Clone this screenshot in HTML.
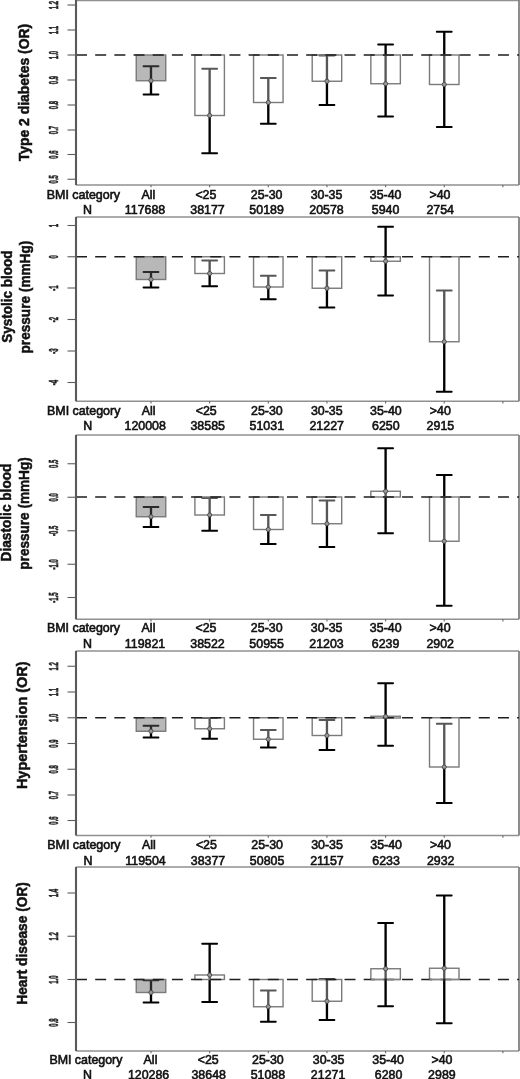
<!DOCTYPE html><html><head><meta charset="utf-8"><style>html,body{margin:0;padding:0;background:#fff;width:520px;height:1079px;overflow:hidden}svg{display:block;will-change:transform}text{font-family:"Liberation Sans",sans-serif}.t{font-weight:bold;font-size:14.2px;fill:#111;stroke:#111;stroke-width:0.5px}.k{font-size:13.6px;font-weight:bold;fill:#222;stroke:#222;stroke-width:0.5px;vector-effect:non-scaling-stroke}.l{font-size:12.4px;fill:#111;stroke:#111;stroke-width:0.6px}</style></head><body>
<svg width="520" height="1079" viewBox="0 0 520 1079">
<line x1="76" y1="0.6" x2="519" y2="0.6" stroke="#909090" stroke-width="1.3"/>
<line x1="76" y1="185" x2="519" y2="185" stroke="#909090" stroke-width="1.3"/>
<line x1="519" y1="0" x2="519" y2="185" stroke="#808080" stroke-width="1.8"/>
<line x1="67.5" y1="5" x2="76" y2="5" stroke="#5c5c5c" stroke-width="1.1"/>
<text class="k" transform="translate(58,5) rotate(-90) scale(0.44,1)" text-anchor="middle">1.2</text>
<line x1="67.5" y1="30" x2="76" y2="30" stroke="#5c5c5c" stroke-width="1.1"/>
<text class="k" transform="translate(58,30) rotate(-90) scale(0.44,1)" text-anchor="middle">1.1</text>
<line x1="67.5" y1="55" x2="76" y2="55" stroke="#5c5c5c" stroke-width="1.1"/>
<text class="k" transform="translate(58,55) rotate(-90) scale(0.44,1)" text-anchor="middle">1.0</text>
<line x1="67.5" y1="80" x2="76" y2="80" stroke="#5c5c5c" stroke-width="1.1"/>
<text class="k" transform="translate(58,80) rotate(-90) scale(0.44,1)" text-anchor="middle">0.9</text>
<line x1="67.5" y1="105" x2="76" y2="105" stroke="#5c5c5c" stroke-width="1.1"/>
<text class="k" transform="translate(58,105) rotate(-90) scale(0.44,1)" text-anchor="middle">0.8</text>
<line x1="67.5" y1="130" x2="76" y2="130" stroke="#5c5c5c" stroke-width="1.1"/>
<text class="k" transform="translate(58,130) rotate(-90) scale(0.44,1)" text-anchor="middle">0.7</text>
<line x1="67.5" y1="154.5" x2="76" y2="154.5" stroke="#5c5c5c" stroke-width="1.1"/>
<text class="k" transform="translate(58,154.5) rotate(-90) scale(0.44,1)" text-anchor="middle">0.6</text>
<line x1="67.5" y1="179.25" x2="76" y2="179.25" stroke="#5c5c5c" stroke-width="1.1"/>
<text class="k" transform="translate(58,179.25) rotate(-90) scale(0.44,1)" text-anchor="middle">0.5</text>
<line x1="151" y1="185" x2="151" y2="187.2" stroke="#666" stroke-width="1.1"/>
<line x1="209.65" y1="185" x2="209.65" y2="187.2" stroke="#666" stroke-width="1.1"/>
<line x1="268.3" y1="185" x2="268.3" y2="187.2" stroke="#666" stroke-width="1.1"/>
<line x1="326.95" y1="185" x2="326.95" y2="187.2" stroke="#666" stroke-width="1.1"/>
<line x1="385.6" y1="185" x2="385.6" y2="187.2" stroke="#666" stroke-width="1.1"/>
<line x1="444.25" y1="185" x2="444.25" y2="187.2" stroke="#666" stroke-width="1.1"/>
<line x1="502.9" y1="185" x2="502.9" y2="187.2" stroke="#666" stroke-width="1.1"/>
<path d="M151 66.25V94.5" stroke="#000" stroke-width="2.35" fill="none"/>
<path d="M143.5 66.25H158.5M143.5 94.5H158.5" stroke="#000" stroke-width="1.8" stroke-linecap="round" fill="none"/>
<path d="M209.65 68.75V153.25" stroke="#000" stroke-width="2.35" fill="none"/>
<path d="M202.15 68.75H217.15M202.15 153.25H217.15" stroke="#000" stroke-width="1.8" stroke-linecap="round" fill="none"/>
<path d="M268.3 78V123.75" stroke="#000" stroke-width="2.35" fill="none"/>
<path d="M260.8 78H275.8M260.8 123.75H275.8" stroke="#000" stroke-width="1.8" stroke-linecap="round" fill="none"/>
<path d="M326.95 55.5V105" stroke="#000" stroke-width="2.35" fill="none"/>
<path d="M319.45 55.5H334.45M319.45 105H334.45" stroke="#000" stroke-width="1.8" stroke-linecap="round" fill="none"/>
<path d="M385.6 44.5V116.5" stroke="#000" stroke-width="2.35" fill="none"/>
<path d="M378.1 44.5H393.1M378.1 116.5H393.1" stroke="#000" stroke-width="1.8" stroke-linecap="round" fill="none"/>
<path d="M444.25 31.75V127" stroke="#000" stroke-width="2.35" fill="none"/>
<path d="M436.75 31.75H451.75M436.75 127H451.75" stroke="#000" stroke-width="1.8" stroke-linecap="round" fill="none"/>
<rect x="136.25" y="55" width="29.5" height="25.75" fill="rgba(95,95,95,0.443)" stroke="#7a7a7a" stroke-width="1.4"/>
<rect x="194.9" y="55" width="29.5" height="60.5" fill="rgba(255,255,255,0.34)" stroke="#7a7a7a" stroke-width="1.4"/>
<rect x="253.55" y="55" width="29.5" height="47.5" fill="rgba(255,255,255,0.34)" stroke="#7a7a7a" stroke-width="1.4"/>
<rect x="312.2" y="55" width="29.5" height="26.25" fill="rgba(255,255,255,0.34)" stroke="#7a7a7a" stroke-width="1.4"/>
<rect x="370.85" y="55" width="29.5" height="28.75" fill="rgba(255,255,255,0.34)" stroke="#7a7a7a" stroke-width="1.4"/>
<rect x="429.5" y="55" width="29.5" height="29.5" fill="rgba(255,255,255,0.34)" stroke="#7a7a7a" stroke-width="1.4"/>
<line x1="76" y1="55" x2="519" y2="55" stroke="#1e1e1e" stroke-width="1.6" stroke-dasharray="11 8.18"/>
<circle cx="151" cy="80.75" r="2.1" fill="#999" stroke="#4a4a4a" stroke-width="0.9"/>
<circle cx="209.65" cy="115.5" r="2.1" fill="#999" stroke="#4a4a4a" stroke-width="0.9"/>
<circle cx="268.3" cy="102.5" r="2.1" fill="#999" stroke="#4a4a4a" stroke-width="0.9"/>
<circle cx="326.95" cy="81.25" r="2.1" fill="#999" stroke="#4a4a4a" stroke-width="0.9"/>
<circle cx="385.6" cy="83.75" r="2.1" fill="#999" stroke="#4a4a4a" stroke-width="0.9"/>
<circle cx="444.25" cy="84.5" r="2.1" fill="#999" stroke="#4a4a4a" stroke-width="0.9"/>
<line x1="76" y1="0" x2="76" y2="185" stroke="#5a5a5a" stroke-width="2.1"/>
<text class="t" transform="translate(28.5,92.55) rotate(-90)" text-anchor="middle" textLength="137.5" lengthAdjust="spacingAndGlyphs">Type 2 diabetes (OR)</text>
<text class="l" x="83.4" y="198.7" text-anchor="middle" textLength="73.4" lengthAdjust="spacingAndGlyphs">BMI category</text>
<text class="l" x="87.6" y="213.7" text-anchor="middle">N</text>
<text class="l" x="148.4" y="198.7" text-anchor="middle">All</text>
<text class="l" x="145" y="213.7" text-anchor="middle">117688</text>
<text class="l" x="205.9" y="198.7" text-anchor="middle">&lt;25</text>
<text class="l" x="207.5" y="213.7" text-anchor="middle">38177</text>
<text class="l" x="266.6" y="198.7" text-anchor="middle">25-30</text>
<text class="l" x="266.6" y="213.7" text-anchor="middle">50189</text>
<text class="l" x="326.5" y="198.7" text-anchor="middle">30-35</text>
<text class="l" x="326.5" y="213.7" text-anchor="middle">20578</text>
<text class="l" x="385.6" y="198.7" text-anchor="middle">35-40</text>
<text class="l" x="385.6" y="213.7" text-anchor="middle">5940</text>
<text class="l" x="440" y="198.7" text-anchor="middle">&gt;40</text>
<text class="l" x="440.2" y="213.7" text-anchor="middle">2754</text>
<line x1="76" y1="217" x2="519" y2="217" stroke="#909090" stroke-width="1.3"/>
<line x1="76" y1="401.25" x2="519" y2="401.25" stroke="#909090" stroke-width="1.3"/>
<line x1="519" y1="217" x2="519" y2="401.25" stroke="#808080" stroke-width="1.8"/>
<line x1="67.5" y1="225.5" x2="76" y2="225.5" stroke="#5c5c5c" stroke-width="1.1"/>
<text class="k" transform="translate(58,225.5) rotate(-90) scale(0.44,1)" text-anchor="middle">1</text>
<line x1="67.5" y1="256.75" x2="76" y2="256.75" stroke="#5c5c5c" stroke-width="1.1"/>
<text class="k" transform="translate(58,256.75) rotate(-90) scale(0.44,1)" text-anchor="middle">0</text>
<line x1="67.5" y1="288" x2="76" y2="288" stroke="#5c5c5c" stroke-width="1.1"/>
<text class="k" transform="translate(58,288) rotate(-90) scale(0.44,1)" text-anchor="middle">-1</text>
<line x1="67.5" y1="319.5" x2="76" y2="319.5" stroke="#5c5c5c" stroke-width="1.1"/>
<text class="k" transform="translate(58,319.5) rotate(-90) scale(0.44,1)" text-anchor="middle">-2</text>
<line x1="67.5" y1="351" x2="76" y2="351" stroke="#5c5c5c" stroke-width="1.1"/>
<text class="k" transform="translate(58,351) rotate(-90) scale(0.44,1)" text-anchor="middle">-3</text>
<line x1="67.5" y1="382.5" x2="76" y2="382.5" stroke="#5c5c5c" stroke-width="1.1"/>
<text class="k" transform="translate(58,382.5) rotate(-90) scale(0.44,1)" text-anchor="middle">-4</text>
<line x1="151" y1="401.25" x2="151" y2="403.45" stroke="#666" stroke-width="1.1"/>
<line x1="209.65" y1="401.25" x2="209.65" y2="403.45" stroke="#666" stroke-width="1.1"/>
<line x1="268.3" y1="401.25" x2="268.3" y2="403.45" stroke="#666" stroke-width="1.1"/>
<line x1="326.95" y1="401.25" x2="326.95" y2="403.45" stroke="#666" stroke-width="1.1"/>
<line x1="385.6" y1="401.25" x2="385.6" y2="403.45" stroke="#666" stroke-width="1.1"/>
<line x1="444.25" y1="401.25" x2="444.25" y2="403.45" stroke="#666" stroke-width="1.1"/>
<line x1="502.9" y1="401.25" x2="502.9" y2="403.45" stroke="#666" stroke-width="1.1"/>
<path d="M151 272V287.5" stroke="#000" stroke-width="2.35" fill="none"/>
<path d="M143.5 272H158.5M143.5 287.5H158.5" stroke="#000" stroke-width="1.8" stroke-linecap="round" fill="none"/>
<path d="M209.65 260.5V286.25" stroke="#000" stroke-width="2.35" fill="none"/>
<path d="M202.15 260.5H217.15M202.15 286.25H217.15" stroke="#000" stroke-width="1.8" stroke-linecap="round" fill="none"/>
<path d="M268.3 275.75V299.25" stroke="#000" stroke-width="2.35" fill="none"/>
<path d="M260.8 275.75H275.8M260.8 299.25H275.8" stroke="#000" stroke-width="1.8" stroke-linecap="round" fill="none"/>
<path d="M326.95 270.5V307.5" stroke="#000" stroke-width="2.35" fill="none"/>
<path d="M319.45 270.5H334.45M319.45 307.5H334.45" stroke="#000" stroke-width="1.8" stroke-linecap="round" fill="none"/>
<path d="M385.6 226.75V295.5" stroke="#000" stroke-width="2.35" fill="none"/>
<path d="M378.1 226.75H393.1M378.1 295.5H393.1" stroke="#000" stroke-width="1.8" stroke-linecap="round" fill="none"/>
<path d="M444.25 290.5V391.75" stroke="#000" stroke-width="2.35" fill="none"/>
<path d="M436.75 290.5H451.75M436.75 391.75H451.75" stroke="#000" stroke-width="1.8" stroke-linecap="round" fill="none"/>
<rect x="136.25" y="256.75" width="29.5" height="22.75" fill="rgba(95,95,95,0.443)" stroke="#7a7a7a" stroke-width="1.4"/>
<rect x="194.9" y="256.75" width="29.5" height="16.75" fill="rgba(255,255,255,0.34)" stroke="#7a7a7a" stroke-width="1.4"/>
<rect x="253.55" y="256.75" width="29.5" height="30.25" fill="rgba(255,255,255,0.34)" stroke="#7a7a7a" stroke-width="1.4"/>
<rect x="312.2" y="256.75" width="29.5" height="31.5" fill="rgba(255,255,255,0.34)" stroke="#7a7a7a" stroke-width="1.4"/>
<rect x="370.85" y="256.75" width="29.5" height="4.5" fill="rgba(255,255,255,0.34)" stroke="#7a7a7a" stroke-width="1.4"/>
<rect x="429.5" y="256.75" width="29.5" height="85" fill="rgba(255,255,255,0.34)" stroke="#7a7a7a" stroke-width="1.4"/>
<line x1="76" y1="256.75" x2="519" y2="256.75" stroke="#1e1e1e" stroke-width="1.6" stroke-dasharray="11 8.18"/>
<circle cx="151" cy="279.5" r="2.1" fill="#999" stroke="#4a4a4a" stroke-width="0.9"/>
<circle cx="209.65" cy="273.5" r="2.1" fill="#999" stroke="#4a4a4a" stroke-width="0.9"/>
<circle cx="268.3" cy="287" r="2.1" fill="#999" stroke="#4a4a4a" stroke-width="0.9"/>
<circle cx="326.95" cy="288.25" r="2.1" fill="#999" stroke="#4a4a4a" stroke-width="0.9"/>
<circle cx="385.6" cy="261.25" r="2.1" fill="#999" stroke="#4a4a4a" stroke-width="0.9"/>
<circle cx="444.25" cy="341.75" r="2.1" fill="#999" stroke="#4a4a4a" stroke-width="0.9"/>
<line x1="76" y1="217" x2="76" y2="401.25" stroke="#5a5a5a" stroke-width="2.1"/>
<text class="t" transform="translate(12.2,296.62) rotate(-90)" text-anchor="middle" textLength="92.35" lengthAdjust="spacingAndGlyphs">Systolic blood</text>
<text class="t" transform="translate(30.1,297.1) rotate(-90)" text-anchor="middle" textLength="112.8" lengthAdjust="spacingAndGlyphs">pressure (mmHg)</text>
<text class="l" x="83.7" y="414.5" text-anchor="middle" textLength="73.4" lengthAdjust="spacingAndGlyphs">BMI category</text>
<text class="l" x="87.8" y="430.1" text-anchor="middle">N</text>
<text class="l" x="148.7" y="414.5" text-anchor="middle">All</text>
<text class="l" x="145.2" y="430.1" text-anchor="middle">120008</text>
<text class="l" x="206.2" y="414.5" text-anchor="middle">&lt;25</text>
<text class="l" x="207.7" y="430.1" text-anchor="middle">38585</text>
<text class="l" x="266.9" y="414.5" text-anchor="middle">25-30</text>
<text class="l" x="266.8" y="430.1" text-anchor="middle">51031</text>
<text class="l" x="326.8" y="414.5" text-anchor="middle">30-35</text>
<text class="l" x="326.7" y="430.1" text-anchor="middle">21227</text>
<text class="l" x="385.9" y="414.5" text-anchor="middle">35-40</text>
<text class="l" x="385.8" y="430.1" text-anchor="middle">6250</text>
<text class="l" x="440.3" y="414.5" text-anchor="middle">&gt;40</text>
<text class="l" x="440.4" y="430.1" text-anchor="middle">2915</text>
<line x1="76" y1="435" x2="519" y2="435" stroke="#909090" stroke-width="1.3"/>
<line x1="76" y1="619.25" x2="519" y2="619.25" stroke="#909090" stroke-width="1.3"/>
<line x1="519" y1="435" x2="519" y2="619.25" stroke="#808080" stroke-width="1.8"/>
<line x1="67.5" y1="463.75" x2="76" y2="463.75" stroke="#5c5c5c" stroke-width="1.1"/>
<text class="k" transform="translate(58,463.75) rotate(-90) scale(0.44,1)" text-anchor="middle">0.5</text>
<line x1="67.5" y1="497.25" x2="76" y2="497.25" stroke="#5c5c5c" stroke-width="1.1"/>
<text class="k" transform="translate(58,497.25) rotate(-90) scale(0.44,1)" text-anchor="middle">0.0</text>
<line x1="67.5" y1="530.75" x2="76" y2="530.75" stroke="#5c5c5c" stroke-width="1.1"/>
<text class="k" transform="translate(58,530.75) rotate(-90) scale(0.44,1)" text-anchor="middle">-0.5</text>
<line x1="67.5" y1="564.25" x2="76" y2="564.25" stroke="#5c5c5c" stroke-width="1.1"/>
<text class="k" transform="translate(58,564.25) rotate(-90) scale(0.44,1)" text-anchor="middle">-1.0</text>
<line x1="67.5" y1="597.5" x2="76" y2="597.5" stroke="#5c5c5c" stroke-width="1.1"/>
<text class="k" transform="translate(58,597.5) rotate(-90) scale(0.44,1)" text-anchor="middle">-1.5</text>
<line x1="151" y1="619.25" x2="151" y2="621.45" stroke="#666" stroke-width="1.1"/>
<line x1="209.65" y1="619.25" x2="209.65" y2="621.45" stroke="#666" stroke-width="1.1"/>
<line x1="268.3" y1="619.25" x2="268.3" y2="621.45" stroke="#666" stroke-width="1.1"/>
<line x1="326.95" y1="619.25" x2="326.95" y2="621.45" stroke="#666" stroke-width="1.1"/>
<line x1="385.6" y1="619.25" x2="385.6" y2="621.45" stroke="#666" stroke-width="1.1"/>
<line x1="444.25" y1="619.25" x2="444.25" y2="621.45" stroke="#666" stroke-width="1.1"/>
<line x1="502.9" y1="619.25" x2="502.9" y2="621.45" stroke="#666" stroke-width="1.1"/>
<path d="M151 507V527" stroke="#000" stroke-width="2.35" fill="none"/>
<path d="M143.5 507H158.5M143.5 527H158.5" stroke="#000" stroke-width="1.8" stroke-linecap="round" fill="none"/>
<path d="M209.65 498V530.75" stroke="#000" stroke-width="2.35" fill="none"/>
<path d="M202.15 498H217.15M202.15 530.75H217.15" stroke="#000" stroke-width="1.8" stroke-linecap="round" fill="none"/>
<path d="M268.3 515V544" stroke="#000" stroke-width="2.35" fill="none"/>
<path d="M260.8 515H275.8M260.8 544H275.8" stroke="#000" stroke-width="1.8" stroke-linecap="round" fill="none"/>
<path d="M326.95 500.5V547" stroke="#000" stroke-width="2.35" fill="none"/>
<path d="M319.45 500.5H334.45M319.45 547H334.45" stroke="#000" stroke-width="1.8" stroke-linecap="round" fill="none"/>
<path d="M385.6 448.25V533.25" stroke="#000" stroke-width="2.35" fill="none"/>
<path d="M378.1 448.25H393.1M378.1 533.25H393.1" stroke="#000" stroke-width="1.8" stroke-linecap="round" fill="none"/>
<path d="M444.25 475V605.75" stroke="#000" stroke-width="2.35" fill="none"/>
<path d="M436.75 475H451.75M436.75 605.75H451.75" stroke="#000" stroke-width="1.8" stroke-linecap="round" fill="none"/>
<rect x="136.25" y="497" width="29.5" height="19.75" fill="rgba(95,95,95,0.443)" stroke="#7a7a7a" stroke-width="1.4"/>
<rect x="194.9" y="497" width="29.5" height="18" fill="rgba(255,255,255,0.34)" stroke="#7a7a7a" stroke-width="1.4"/>
<rect x="253.55" y="497" width="29.5" height="32.5" fill="rgba(255,255,255,0.34)" stroke="#7a7a7a" stroke-width="1.4"/>
<rect x="312.2" y="497" width="29.5" height="26.75" fill="rgba(255,255,255,0.34)" stroke="#7a7a7a" stroke-width="1.4"/>
<rect x="370.85" y="491.25" width="29.5" height="5.75" fill="rgba(255,255,255,0.34)" stroke="#7a7a7a" stroke-width="1.4"/>
<rect x="429.5" y="497" width="29.5" height="44.25" fill="rgba(255,255,255,0.34)" stroke="#7a7a7a" stroke-width="1.4"/>
<line x1="76" y1="497" x2="519" y2="497" stroke="#1e1e1e" stroke-width="1.6" stroke-dasharray="11 8.18"/>
<circle cx="151" cy="516.75" r="2.1" fill="#999" stroke="#4a4a4a" stroke-width="0.9"/>
<circle cx="209.65" cy="515" r="2.1" fill="#999" stroke="#4a4a4a" stroke-width="0.9"/>
<circle cx="268.3" cy="529.5" r="2.1" fill="#999" stroke="#4a4a4a" stroke-width="0.9"/>
<circle cx="326.95" cy="523.75" r="2.1" fill="#999" stroke="#4a4a4a" stroke-width="0.9"/>
<circle cx="385.6" cy="491.25" r="2.1" fill="#999" stroke="#4a4a4a" stroke-width="0.9"/>
<circle cx="444.25" cy="541.25" r="2.1" fill="#999" stroke="#4a4a4a" stroke-width="0.9"/>
<line x1="76" y1="435" x2="76" y2="619.25" stroke="#5a5a5a" stroke-width="2.1"/>
<text class="t" transform="translate(11.4,512.5) rotate(-90)" text-anchor="middle" textLength="97.8" lengthAdjust="spacingAndGlyphs">Diastolic blood</text>
<text class="t" transform="translate(29.3,513.5) rotate(-90)" text-anchor="middle" textLength="112.4" lengthAdjust="spacingAndGlyphs">pressure (mmHg)</text>
<text class="l" x="83.5" y="631.9" text-anchor="middle" textLength="73.2" lengthAdjust="spacingAndGlyphs">BMI category</text>
<text class="l" x="87.6" y="647.7" text-anchor="middle">N</text>
<text class="l" x="148.5" y="631.9" text-anchor="middle">All</text>
<text class="l" x="145" y="647.7" text-anchor="middle">119821</text>
<text class="l" x="206" y="631.9" text-anchor="middle">&lt;25</text>
<text class="l" x="207.5" y="647.7" text-anchor="middle">38522</text>
<text class="l" x="266.7" y="631.9" text-anchor="middle">25-30</text>
<text class="l" x="266.6" y="647.7" text-anchor="middle">50955</text>
<text class="l" x="326.6" y="631.9" text-anchor="middle">30-35</text>
<text class="l" x="326.5" y="647.7" text-anchor="middle">21203</text>
<text class="l" x="385.7" y="631.9" text-anchor="middle">35-40</text>
<text class="l" x="385.6" y="647.7" text-anchor="middle">6239</text>
<text class="l" x="440.1" y="631.9" text-anchor="middle">&gt;40</text>
<text class="l" x="440.2" y="647.7" text-anchor="middle">2902</text>
<line x1="76" y1="651" x2="519" y2="651" stroke="#909090" stroke-width="1.3"/>
<line x1="76" y1="835.5" x2="519" y2="835.5" stroke="#909090" stroke-width="1.3"/>
<line x1="519" y1="651" x2="519" y2="835.5" stroke="#808080" stroke-width="1.8"/>
<line x1="67.5" y1="666.25" x2="76" y2="666.25" stroke="#5c5c5c" stroke-width="1.1"/>
<text class="k" transform="translate(58,666.25) rotate(-90) scale(0.44,1)" text-anchor="middle">1.2</text>
<line x1="67.5" y1="692" x2="76" y2="692" stroke="#5c5c5c" stroke-width="1.1"/>
<text class="k" transform="translate(58,692) rotate(-90) scale(0.44,1)" text-anchor="middle">1.1</text>
<line x1="67.5" y1="717.75" x2="76" y2="717.75" stroke="#5c5c5c" stroke-width="1.1"/>
<text class="k" transform="translate(58,717.75) rotate(-90) scale(0.44,1)" text-anchor="middle">1.0</text>
<line x1="67.5" y1="743.5" x2="76" y2="743.5" stroke="#5c5c5c" stroke-width="1.1"/>
<text class="k" transform="translate(58,743.5) rotate(-90) scale(0.44,1)" text-anchor="middle">0.9</text>
<line x1="67.5" y1="769.25" x2="76" y2="769.25" stroke="#5c5c5c" stroke-width="1.1"/>
<text class="k" transform="translate(58,769.25) rotate(-90) scale(0.44,1)" text-anchor="middle">0.8</text>
<line x1="67.5" y1="795" x2="76" y2="795" stroke="#5c5c5c" stroke-width="1.1"/>
<text class="k" transform="translate(58,795) rotate(-90) scale(0.44,1)" text-anchor="middle">0.7</text>
<line x1="67.5" y1="820.5" x2="76" y2="820.5" stroke="#5c5c5c" stroke-width="1.1"/>
<text class="k" transform="translate(58,820.5) rotate(-90) scale(0.44,1)" text-anchor="middle">0.6</text>
<line x1="151" y1="835.5" x2="151" y2="837.7" stroke="#666" stroke-width="1.1"/>
<line x1="209.65" y1="835.5" x2="209.65" y2="837.7" stroke="#666" stroke-width="1.1"/>
<line x1="268.3" y1="835.5" x2="268.3" y2="837.7" stroke="#666" stroke-width="1.1"/>
<line x1="326.95" y1="835.5" x2="326.95" y2="837.7" stroke="#666" stroke-width="1.1"/>
<line x1="385.6" y1="835.5" x2="385.6" y2="837.7" stroke="#666" stroke-width="1.1"/>
<line x1="444.25" y1="835.5" x2="444.25" y2="837.7" stroke="#666" stroke-width="1.1"/>
<line x1="502.9" y1="835.5" x2="502.9" y2="837.7" stroke="#666" stroke-width="1.1"/>
<path d="M151 725.75V737.5" stroke="#000" stroke-width="2.35" fill="none"/>
<path d="M143.5 725.75H158.5M143.5 737.5H158.5" stroke="#000" stroke-width="1.8" stroke-linecap="round" fill="none"/>
<path d="M209.65 718V738.75" stroke="#000" stroke-width="2.35" fill="none"/>
<path d="M202.15 718H217.15M202.15 738.75H217.15" stroke="#000" stroke-width="1.8" stroke-linecap="round" fill="none"/>
<path d="M268.3 730V747.5" stroke="#000" stroke-width="2.35" fill="none"/>
<path d="M260.8 730H275.8M260.8 747.5H275.8" stroke="#000" stroke-width="1.8" stroke-linecap="round" fill="none"/>
<path d="M326.95 720V750" stroke="#000" stroke-width="2.35" fill="none"/>
<path d="M319.45 720H334.45M319.45 750H334.45" stroke="#000" stroke-width="1.8" stroke-linecap="round" fill="none"/>
<path d="M385.6 683.25V745.75" stroke="#000" stroke-width="2.35" fill="none"/>
<path d="M378.1 683.25H393.1M378.1 745.75H393.1" stroke="#000" stroke-width="1.8" stroke-linecap="round" fill="none"/>
<path d="M444.25 723.75V803" stroke="#000" stroke-width="2.35" fill="none"/>
<path d="M436.75 723.75H451.75M436.75 803H451.75" stroke="#000" stroke-width="1.8" stroke-linecap="round" fill="none"/>
<rect x="136.25" y="717.75" width="29.5" height="13.5" fill="rgba(95,95,95,0.443)" stroke="#7a7a7a" stroke-width="1.4"/>
<rect x="194.9" y="717.75" width="29.5" height="11" fill="rgba(255,255,255,0.34)" stroke="#7a7a7a" stroke-width="1.4"/>
<rect x="253.55" y="717.75" width="29.5" height="21.5" fill="rgba(255,255,255,0.34)" stroke="#7a7a7a" stroke-width="1.4"/>
<rect x="312.2" y="717.75" width="29.5" height="17.75" fill="rgba(255,255,255,0.34)" stroke="#7a7a7a" stroke-width="1.4"/>
<rect x="370.85" y="716.25" width="29.5" height="1.75" fill="rgba(255,255,255,0.34)" stroke="#7a7a7a" stroke-width="1.4"/>
<rect x="429.5" y="717.75" width="29.5" height="49.25" fill="rgba(255,255,255,0.34)" stroke="#7a7a7a" stroke-width="1.4"/>
<line x1="76" y1="717.75" x2="519" y2="717.75" stroke="#1e1e1e" stroke-width="1.6" stroke-dasharray="11 8.18"/>
<circle cx="151" cy="731.25" r="2.1" fill="#999" stroke="#4a4a4a" stroke-width="0.9"/>
<circle cx="209.65" cy="728.75" r="2.1" fill="#999" stroke="#4a4a4a" stroke-width="0.9"/>
<circle cx="268.3" cy="739.25" r="2.1" fill="#999" stroke="#4a4a4a" stroke-width="0.9"/>
<circle cx="326.95" cy="735.5" r="2.1" fill="#999" stroke="#4a4a4a" stroke-width="0.9"/>
<circle cx="385.6" cy="716.5" r="2.1" fill="#999" stroke="#4a4a4a" stroke-width="0.9"/>
<circle cx="444.25" cy="767" r="2.1" fill="#999" stroke="#4a4a4a" stroke-width="0.9"/>
<line x1="76" y1="651" x2="76" y2="835.5" stroke="#5a5a5a" stroke-width="2.1"/>
<text class="t" transform="translate(26.9,725.25) rotate(-90)" text-anchor="middle" textLength="127.7" lengthAdjust="spacingAndGlyphs">Hypertension (OR)</text>
<text class="l" x="83.9" y="849.2" text-anchor="middle" textLength="73.2" lengthAdjust="spacingAndGlyphs">BMI category</text>
<text class="l" x="88.1" y="864.6" text-anchor="middle">N</text>
<text class="l" x="148.9" y="849.2" text-anchor="middle">All</text>
<text class="l" x="145.5" y="864.6" text-anchor="middle">119504</text>
<text class="l" x="206.4" y="849.2" text-anchor="middle">&lt;25</text>
<text class="l" x="208" y="864.6" text-anchor="middle">38377</text>
<text class="l" x="267.1" y="849.2" text-anchor="middle">25-30</text>
<text class="l" x="267.1" y="864.6" text-anchor="middle">50805</text>
<text class="l" x="327" y="849.2" text-anchor="middle">30-35</text>
<text class="l" x="327" y="864.6" text-anchor="middle">21157</text>
<text class="l" x="386.1" y="849.2" text-anchor="middle">35-40</text>
<text class="l" x="386.1" y="864.6" text-anchor="middle">6233</text>
<text class="l" x="440.5" y="849.2" text-anchor="middle">&gt;40</text>
<text class="l" x="440.7" y="864.6" text-anchor="middle">2932</text>
<line x1="76" y1="867" x2="519" y2="867" stroke="#909090" stroke-width="1.3"/>
<line x1="76" y1="1051" x2="519" y2="1051" stroke="#909090" stroke-width="1.3"/>
<line x1="519" y1="867" x2="519" y2="1051" stroke="#808080" stroke-width="1.8"/>
<line x1="67.5" y1="893" x2="76" y2="893" stroke="#5c5c5c" stroke-width="1.1"/>
<text class="k" transform="translate(58,893) rotate(-90) scale(0.44,1)" text-anchor="middle">1.4</text>
<line x1="67.5" y1="936.25" x2="76" y2="936.25" stroke="#5c5c5c" stroke-width="1.1"/>
<text class="k" transform="translate(58,936.25) rotate(-90) scale(0.44,1)" text-anchor="middle">1.2</text>
<line x1="67.5" y1="979.5" x2="76" y2="979.5" stroke="#5c5c5c" stroke-width="1.1"/>
<text class="k" transform="translate(58,979.5) rotate(-90) scale(0.44,1)" text-anchor="middle">1.0</text>
<line x1="67.5" y1="1022.5" x2="76" y2="1022.5" stroke="#5c5c5c" stroke-width="1.1"/>
<text class="k" transform="translate(58,1022.5) rotate(-90) scale(0.44,1)" text-anchor="middle">0.8</text>
<line x1="151" y1="1051" x2="151" y2="1053.2" stroke="#666" stroke-width="1.1"/>
<line x1="209.65" y1="1051" x2="209.65" y2="1053.2" stroke="#666" stroke-width="1.1"/>
<line x1="268.3" y1="1051" x2="268.3" y2="1053.2" stroke="#666" stroke-width="1.1"/>
<line x1="326.95" y1="1051" x2="326.95" y2="1053.2" stroke="#666" stroke-width="1.1"/>
<line x1="385.6" y1="1051" x2="385.6" y2="1053.2" stroke="#666" stroke-width="1.1"/>
<line x1="444.25" y1="1051" x2="444.25" y2="1053.2" stroke="#666" stroke-width="1.1"/>
<line x1="502.9" y1="1051" x2="502.9" y2="1053.2" stroke="#666" stroke-width="1.1"/>
<path d="M151 980.25V1002.5" stroke="#000" stroke-width="2.35" fill="none"/>
<path d="M143.5 980.25H158.5M143.5 1002.5H158.5" stroke="#000" stroke-width="1.8" stroke-linecap="round" fill="none"/>
<path d="M209.65 943.75V1002" stroke="#000" stroke-width="2.35" fill="none"/>
<path d="M202.15 943.75H217.15M202.15 1002H217.15" stroke="#000" stroke-width="1.8" stroke-linecap="round" fill="none"/>
<path d="M268.3 990.5V1021.75" stroke="#000" stroke-width="2.35" fill="none"/>
<path d="M260.8 990.5H275.8M260.8 1021.75H275.8" stroke="#000" stroke-width="1.8" stroke-linecap="round" fill="none"/>
<path d="M326.95 979.25V1020" stroke="#000" stroke-width="2.35" fill="none"/>
<path d="M319.45 979.25H334.45M319.45 1020H334.45" stroke="#000" stroke-width="1.8" stroke-linecap="round" fill="none"/>
<path d="M385.6 923V1006.25" stroke="#000" stroke-width="2.35" fill="none"/>
<path d="M378.1 923H393.1M378.1 1006.25H393.1" stroke="#000" stroke-width="1.8" stroke-linecap="round" fill="none"/>
<path d="M444.25 895.5V1023.25" stroke="#000" stroke-width="2.35" fill="none"/>
<path d="M436.75 895.5H451.75M436.75 1023.25H451.75" stroke="#000" stroke-width="1.8" stroke-linecap="round" fill="none"/>
<rect x="136.25" y="979.5" width="29.5" height="13" fill="rgba(95,95,95,0.443)" stroke="#7a7a7a" stroke-width="1.4"/>
<rect x="194.9" y="975" width="29.5" height="4.5" fill="rgba(255,255,255,0.34)" stroke="#7a7a7a" stroke-width="1.4"/>
<rect x="253.55" y="979.5" width="29.5" height="27.25" fill="rgba(255,255,255,0.34)" stroke="#7a7a7a" stroke-width="1.4"/>
<rect x="312.2" y="979.5" width="29.5" height="21.75" fill="rgba(255,255,255,0.34)" stroke="#7a7a7a" stroke-width="1.4"/>
<rect x="370.85" y="968.75" width="29.5" height="10.75" fill="rgba(255,255,255,0.34)" stroke="#7a7a7a" stroke-width="1.4"/>
<rect x="429.5" y="968.25" width="29.5" height="11.25" fill="rgba(255,255,255,0.34)" stroke="#7a7a7a" stroke-width="1.4"/>
<line x1="76" y1="979.5" x2="519" y2="979.5" stroke="#1e1e1e" stroke-width="1.6" stroke-dasharray="11 8.18"/>
<path d="M370.85 979.5H384.3M386.9 979.5H400.35" stroke="#858585" stroke-width="1.6" fill="none"/>
<path d="M429.5 979.5H442.95M445.55 979.5H459" stroke="#858585" stroke-width="1.6" fill="none"/>
<circle cx="151" cy="992.5" r="2.1" fill="#999" stroke="#4a4a4a" stroke-width="0.9"/>
<circle cx="209.65" cy="975" r="2.1" fill="#999" stroke="#4a4a4a" stroke-width="0.9"/>
<circle cx="268.3" cy="1006.75" r="2.1" fill="#999" stroke="#4a4a4a" stroke-width="0.9"/>
<circle cx="326.95" cy="1001.25" r="2.1" fill="#999" stroke="#4a4a4a" stroke-width="0.9"/>
<circle cx="385.6" cy="968.75" r="2.1" fill="#999" stroke="#4a4a4a" stroke-width="0.9"/>
<circle cx="444.25" cy="968.25" r="2.1" fill="#999" stroke="#4a4a4a" stroke-width="0.9"/>
<line x1="76" y1="867" x2="76" y2="1051" stroke="#5a5a5a" stroke-width="2.1"/>
<text class="t" transform="translate(26.7,943.45) rotate(-90)" text-anchor="middle" textLength="122.5" lengthAdjust="spacingAndGlyphs">Heart disease (OR)</text>
<text class="l" x="85.9" y="1063.6" text-anchor="middle" textLength="73" lengthAdjust="spacingAndGlyphs">BMI category</text>
<text class="l" x="87.5" y="1078.8" text-anchor="middle">N</text>
<text class="l" x="150.5" y="1063.6" text-anchor="middle">All</text>
<text class="l" x="148.6" y="1078.8" text-anchor="middle">120286</text>
<text class="l" x="208.2" y="1063.6" text-anchor="middle">&lt;25</text>
<text class="l" x="208.7" y="1078.8" text-anchor="middle">38648</text>
<text class="l" x="267.9" y="1063.6" text-anchor="middle">25-30</text>
<text class="l" x="267.9" y="1078.8" text-anchor="middle">51088</text>
<text class="l" x="328.6" y="1063.6" text-anchor="middle">30-35</text>
<text class="l" x="328.1" y="1078.8" text-anchor="middle">21271</text>
<text class="l" x="388.1" y="1063.6" text-anchor="middle">35-40</text>
<text class="l" x="388.6" y="1078.8" text-anchor="middle">6280</text>
<text class="l" x="442" y="1063.6" text-anchor="middle">&gt;40</text>
<text class="l" x="441.9" y="1078.8" text-anchor="middle">2989</text>
</svg></body></html>
